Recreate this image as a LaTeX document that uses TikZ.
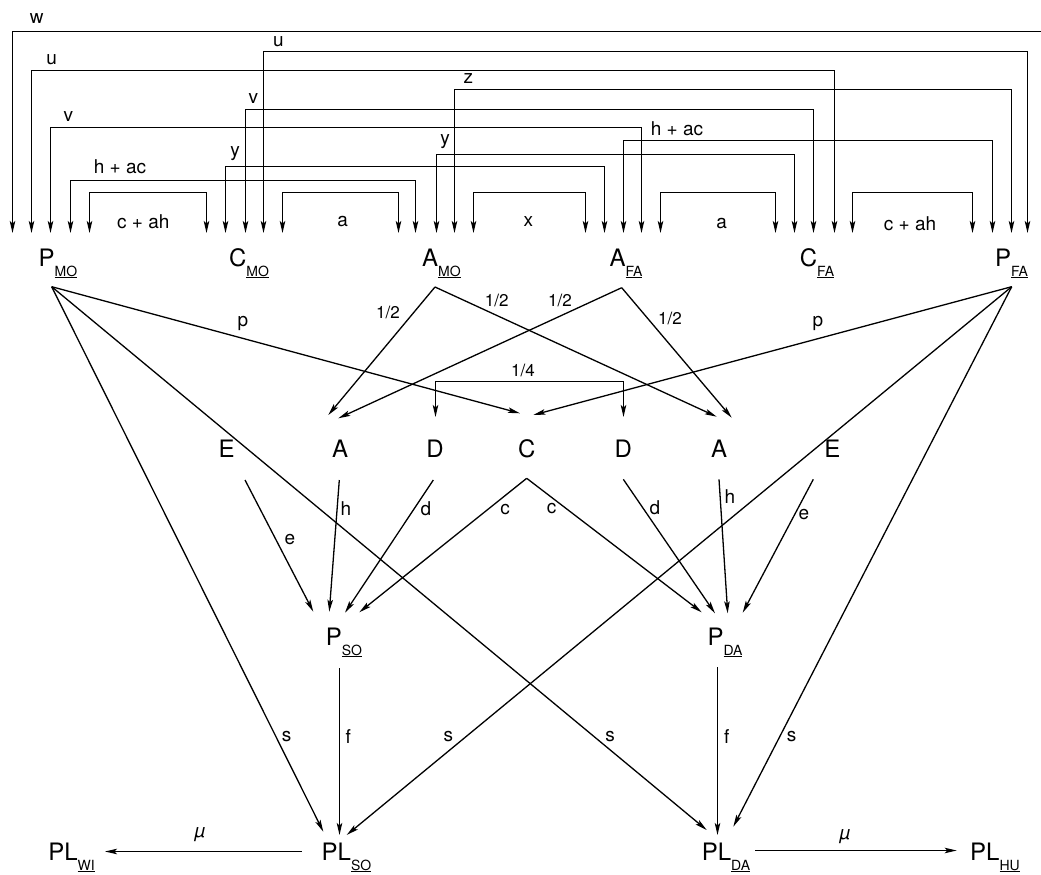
\documentclass[tikz,border=0pt]{standalone}
\usepackage{fontspec}
\setmainfont{TeX Gyre Heros}
\usetikzlibrary{arrows.meta}
% variable with an underlined subscript
\newcommand\vsub[2]{#1\raisebox{-10pt}{\fontsize{14}{14}\selectfont\underline{#2}}}
\begin{document}
\begin{tikzpicture}[x=1pt,y=-1pt,
  hd/.tip={Stealth[length=12pt,width=5.5pt,inset=2.5pt]},
  var/.style={inner sep=0pt,anchor=base,font=\fontsize{24}{24}\selectfont},
  lbl/.style={inner sep=0pt,font=\fontsize{19}{19}\selectfont},
  frac/.style={inner sep=0pt,font=\fontsize{17}{17}\selectfont},
  arr/.style={line width=1.3pt,-hd},
  dbl/.style={line width=1.3pt,hd-hd}]
\useasboundingbox (0,0) rectangle (1041,875);

% ---- variables ----
\node[var] (PMO) at (58,266) {\vsub{P}{MO}};
\node[var] (CMO) at (249,266) {\vsub{C}{MO}};
\node[var] (AMO) at (441.5,266) {\vsub{A}{MO}};
\node[var] (AFA) at (626,266) {\vsub{A}{FA}};
\node[var] (CFA) at (817,266) {\vsub{C}{FA}};
\node[var] (PFA) at (1011.5,266) {\vsub{P}{FA}};
\node[var] (EL) at (226.7,457) {E};
\node[var] (AL) at (340,457) {A};
\node[var] (DL) at (435,457) {D};
\node[var] (C)  at (526.7,457) {C};
\node[var] (DR) at (623.3,457) {D};
\node[var] (AR) at (719,457) {A};
\node[var] (ER) at (832.3,457) {E};
\node[var] (PSO) at (344,645) {\vsub{P}{SO}};
\node[var] (PDA) at (725,645) {\vsub{P}{DA}};
\node[var] (PLSO) at (346.5,860) {\vsub{PL}{SO}};
\node[var] (PLWI) at (71.5,860) {\vsub{PL}{WI}};
\node[var] (PLDA) at (726,860) {\vsub{PL}{DA}};
\node[var] (PLHU) at (995,860) {\vsub{PL}{HU}};

% ---- ports above the parental variables ----
\foreach \n/\k/\dx in {
  PMO/w/-45.5, PMO/u/-26.5, PMO/v/-7.5, PMO/h/12.5, PMO/c/31.5,
  CMO/c/-42.5, CMO/y/-23.5, CMO/v/-3.5, CMO/u/14.5, CMO/a/33.5,
  AMO/a/-43, AMO/h/-26, AMO/y/-5, AMO/z/13, AMO/x/32,
  AFA/x/-40.5, AFA/y/-21.5, AFA/h/-2.5, AFA/v/15.5, AFA/a/34.5,
  CFA/a/-41.5, CFA/y/-22.5, CFA/v/-3.5, CFA/u/17.5, CFA/c/35.5,
  PFA/c/-39, PFA/h/-19, PFA/z/0, PFA/u/16}
  \coordinate (\n-\k) at ([shift={(\dx,-33)}]\n.base);

% ---- other ports ----
\foreach \n/\k/\dx/\dy in {
  PMO/o/-6.3/20.7, AMO/o/-6.5/21, AFA/o/-4.3/21.7, PFA/o/0.2/20.7,
  EL/o/18.3/23, AL/o/-0.7/23, DL/o/-1.7/23, C/o/0/21.3,
  DR/o/0/22.3, AR/o/0/22.3, ER/o/-19/22.3,
  PSO/o/-4.5/23.3, PDA/o/-7.5/22, PLSO/o/-44.8/-8.5, PLDA/o/29/-9.5,
  AL/m/-11.7/-42, AL/f/-1.7/-38.7, DL/i/0.5/-40, C/m/-6.7/-43.7, C/f/6.6/-42,
  DR/i/0.2/-40, AR/m/-2.3/-40.3, AR/f/12.7/-39.3,
  PSO/e/-30.7/-33.3, PSO/h/-14.7/-33.3, PSO/d/1/-32.3, PSO/c/15.3/-32.7,
  PDA/c/-23.3/-32.7, PDA/d/-10/-31.7, PDA/h/2.7/-31.7, PDA/e/17.7/-32.3,
  PLSO/m/-23.2/-28.3, PLSO/f/-7/-25, PLSO/p/0.2/-25,
  PLDA/m/-19.3/-30, PLDA/f/-8.5/-25, PLDA/p/7.3/-33.3,
  PLWI/i/33.5/-8.5, PLHU/i/-38.3/-9.5}
  \coordinate (\n-\k) at ([shift={(\dx,\dy)}]\n.base);

% ---- correlations between parental variables ----
\draw[line width=1.3pt,hd-] (PMO-w) -- (PMO-w |- 0,31.5) -- (1045,31.5);
\foreach \a/\b/\lev in {
  CMO-u/PFA-u/51.5, PMO-u/CFA-u/70.5, AMO-z/PFA-z/89.5, CMO-v/CFA-v/109.5,
  PMO-v/AFA-v/127.5, AFA-h/PFA-h/140.5, AMO-y/CFA-y/154.5, CMO-y/AFA-y/166.5,
  PMO-h/AMO-h/180.5, PMO-c/CMO-c/192.5, CMO-a/AMO-a/192.5, AMO-x/AFA-x/192.5,
  AFA-a/CFA-a/192.5, CFA-c/PFA-c/192.5}
  \draw[dbl] (\a) -- (\a |- 0,\lev) -- (\b |- 0,\lev) -- (\b);

\node[lbl] at (36.7,18.3) {w};
\node[lbl] at (278.3,41.7) {u};
\node[lbl] at (51.7,60) {u};
\node[lbl] at (468.3,79) {z};
\node[lbl] at (253.3,98.3) {v};
\node[lbl] at (68.3,116.7) {v};
\node[lbl] at (677,129) {h + ac};
\node[lbl] at (445,141.7) {y};
\node[lbl] at (235,153.3) {y};
\node[lbl] at (120,166.7) {h + ac};
\node[lbl] at (143.3,221.7) {c + ah};
\node[lbl] at (342.7,222) {a};
\node[lbl] at (528.3,221.7) {x};
\node[lbl] at (721.7,223.3) {a};
\node[lbl] at (910,223.3) {c + ah};

% ---- parents to offspring components ----
\draw[arr] (PMO-o) -- (C-m);
\draw[arr] (PFA-o) -- (C-f);
\draw[arr] (AMO-o) -- (AL-m);
\draw[arr] (AFA-o) -- (AL-f);
\draw[arr] (AMO-o) -- (AR-m);
\draw[arr] (AFA-o) -- (AR-f);
\draw[dbl] (DL-i) -- (DL-i |- 0,381.5) -- (DR-i |- 0,381.5) -- (DR-i);

\node[lbl] at (243,323) {p};
\node[lbl] at (818,323) {p};
\node[frac] at (388,312) {1/2};
\node[frac] at (496.7,300) {1/2};
\node[frac] at (560,300) {1/2};
\node[frac] at (670,318) {1/2};
\node[frac] at (523,370.7) {1/4};

% ---- components to offspring phenotypes ----
\draw[arr] (EL-o) -- (PSO-e);
\draw[arr] (AL-o) -- (PSO-h);
\draw[arr] (DL-o) -- (PSO-d);
\draw[arr] (C-o) -- (PSO-c);
\draw[arr] (C-o) -- (PDA-c);
\draw[arr] (DR-o) -- (PDA-d);
\draw[arr] (AR-o) -- (PDA-h);
\draw[arr] (ER-o) -- (PDA-e);

\node[lbl] at (290,540) {e};
\node[lbl] at (346,509) {h};
\node[lbl] at (426,509) {d};
\node[lbl] at (505,510) {c};
\node[lbl] at (551.7,508.3) {c};
\node[lbl] at (655,508) {d};
\node[lbl] at (730,496.7) {h};
\node[lbl] at (804,515) {e};

% ---- phenotypes to lifestyle measures ----
\draw[arr] (PSO-o) -- (PLSO-f);
\draw[arr] (PDA-o) -- (PLDA-f);
\draw[arr] (PMO-o) -- (PLSO-m);
\draw[arr] (PFA-o) -- (PLSO-p);
\draw[arr] (PMO-o) -- (PLDA-m);
\draw[arr] (PFA-o) -- (PLDA-p);
\draw[arr] (PLSO-o) -- (PLWI-i);
\draw[arr] (PLDA-o) -- (PLHU-i);

\node[lbl] at (286.7,736.7) {s};
\node[lbl] at (448.3,736.7) {s};
\node[lbl] at (610,736.7) {s};
\node[lbl] at (791.7,736.7) {s};
\node[lbl] at (348.3,736.7) {f};
\node[lbl] at (726.7,736.7) {f};
\node[lbl] at (200,835) {\itshape µ};
\node[lbl] at (845,836.7) {\itshape µ};
\end{tikzpicture}
\end{document}
